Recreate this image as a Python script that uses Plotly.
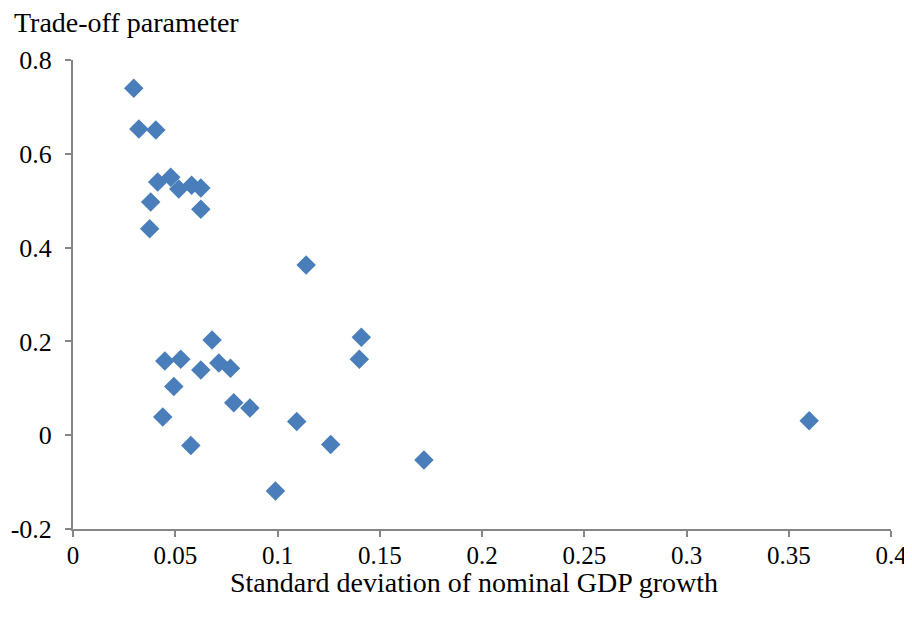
import plotly.graph_objects as go

sd_gdp = [0.0297, 0.0322, 0.0405, 0.0414, 0.0478, 0.0517, 0.058, 0.0625, 0.038, 0.0625,
          0.0375, 0.114, 0.141, 0.140, 0.068, 0.0449, 0.0527, 0.0713, 0.077, 0.0625,
          0.0493, 0.0786, 0.0865, 0.0439, 0.1094, 0.126, 0.0576, 0.1716, 0.099, 0.360]
tradeoff = [0.740, 0.653, 0.651, 0.540, 0.550, 0.525, 0.533, 0.527, 0.497, 0.482,
            0.440, 0.363, 0.209, 0.162, 0.203, 0.158, 0.162, 0.154, 0.143, 0.139,
            0.104, 0.069, 0.058, 0.039, 0.029, -0.020, -0.022, -0.053, -0.119, 0.031]

x_ticks = [0, 0.05, 0.1, 0.15, 0.2, 0.25, 0.3, 0.35, 0.4]
x_labels = ["0", "0.05", "0.1", "0.15", "0.2", "0.25", "0.3", "0.35", "0.4"]
y_ticks = [-0.2, 0, 0.2, 0.4, 0.6, 0.8]
y_labels = ["-0.2", "0", "0.2", "0.4", "0.6", "0.8"]

fig = go.Figure(go.Scatter(
    x=sd_gdp, y=tradeoff, mode="markers",
    marker=dict(symbol="diamond", size=15, color="#4a7ebb", line=dict(width=0)),
))

font_family = "Liberation Serif, Times New Roman, serif"
fig.update_layout(
    width=912, height=628,
    margin=dict(l=65, r=29, t=52, b=107, autoexpand=False),
    paper_bgcolor="white", plot_bgcolor="white",
    showlegend=False,
    font=dict(family=font_family, size=26, color="black"),
    xaxis=dict(range=[0, 0.4], tickvals=x_ticks, ticktext=x_labels,
               showgrid=False, zeroline=False, showline=True, linecolor="#868686",
               linewidth=2, ticks="outside", ticklen=6, tickcolor="#868686",
               tickwidth=1.5, ticklabelstandoff=-3,
               tickfont=dict(size=25, family=font_family)),
    yaxis=dict(range=[-0.2, 0.8], tickvals=y_ticks, ticktext=y_labels,
               showgrid=False, zeroline=False, showline=True, linecolor="#868686",
               linewidth=2, ticks="outside", ticklen=6, tickcolor="#868686",
               tickwidth=1.5, ticklabelstandoff=8,
               tickfont=dict(size=26, family=font_family)),
    annotations=[
        dict(text="Trade-off parameter", xref="paper", yref="paper",
             x=-61/818, y=1 + 37/469, xanchor="left", yanchor="middle",
             showarrow=False, font=dict(size=28, family=font_family)),
        dict(text="Standard deviation of nominal GDP growth", xref="paper", yref="paper",
             x=0.49, y=-53/469, xanchor="center", yanchor="middle",
             showarrow=False, font=dict(size=28, family=font_family)),
    ],
)

fig.write_html("out.html")
